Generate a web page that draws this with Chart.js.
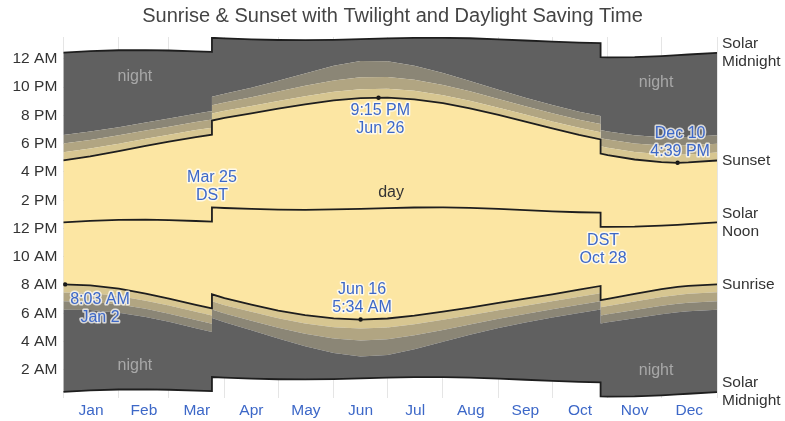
<!DOCTYPE html>
<html><head><meta charset="utf-8">
<script src="https://cdn.jsdelivr.net/npm/chart.js@4.4.0/dist/chart.umd.min.js"></script>
<style>html,body{margin:0;padding:0;background:#fff}#wrap{width:785px;height:421px;position:relative}</style>
</head><body><div id="wrap"><canvas id="c"></canvas></div>
<script>
// Day of year (0 = Jan 1). Repeated days mark DST switches (Mar 25, Oct 28).
const days = [0,15,31,46,59,74,83,83,90,105,120,135,151,166,181,196,212,227,243,258,273,288,300,300,304,319,334,343,349,365];
// Clock hours (decimal)
const solarMidnightLow = [0.440,0.545,0.612,0.624,0.595,0.535,0.495,1.495,1.454,1.385,1.339,1.325,1.350,1.395,1.447,1.487,1.492,1.460,1.389,1.304,1.219,1.152,1.122,0.122,0.114,0.132,0.204,0.265,0.312,0.434];
const astroDawn   = [6.261,6.233,6.051,5.747,5.409,4.947,4.675,5.675,5.364,4.806,4.219,3.676,3.187,2.941,3.051,3.458,3.987,4.478,4.960,5.351,5.704,6.034,6.278,5.278,5.363,5.662,5.945,6.078,6.152,6.261];
const nauticalDawn= [6.860,6.824,6.629,6.318,5.981,5.532,5.273,6.273,5.983,5.479,4.977,4.551,4.219,4.085,4.170,4.444,4.827,5.211,5.614,5.959,6.286,6.605,6.850,5.850,5.936,6.245,6.539,6.678,6.753,6.861];
const civilDawn   = [7.484,7.434,7.221,6.895,6.552,6.106,5.854,6.854,6.576,6.105,5.654,5.290,5.025,4.930,5.008,5.232,5.547,5.874,6.228,6.546,6.859,7.177,7.429,6.429,6.518,6.843,7.155,7.301,7.379,7.486];
const sunrise     = [8.051,7.986,7.749,7.403,7.049,6.598,6.348,7.348,7.075,6.622,6.199,5.868,5.638,5.562,5.636,5.836,6.117,6.411,6.739,7.041,7.350,7.675,7.937,6.937,7.032,7.379,7.712,7.867,7.949,8.053];
const solarNoon   = [12.440,12.545,12.612,12.624,12.595,12.535,12.495,13.495,13.454,13.385,13.339,13.325,13.350,13.395,13.447,13.487,13.492,13.460,13.389,13.304,13.219,13.152,13.122,12.122,12.114,12.132,12.204,12.265,12.312,12.434];
const sunset      = [16.829,17.104,17.475,17.845,18.141,18.472,18.642,19.642,19.833,20.148,20.479,20.782,21.062,21.228,21.258,21.138,20.867,20.509,20.039,19.567,19.088,18.629,18.307,17.307,17.196,16.885,16.696,16.650,16.675,16.815];
const civilDusk   = [17.396,17.656,18.003,18.353,18.638,18.964,19.136,20.136,20.332,20.665,21.024,21.360,21.675,21.860,21.886,21.742,21.437,21.046,20.550,20.062,19.579,19.127,18.815,17.815,17.710,17.421,17.253,17.229,17.245,17.382];
const nauticalDusk= [18.020,18.266,18.595,18.930,19.209,19.538,19.717,20.717,20.925,21.291,21.701,22.099,22.481,22.705,22.724,22.530,22.157,21.709,21.164,20.649,20.152,19.699,19.394,18.394,18.292,18.019,17.869,17.852,17.871,18.007];
const astroDusk   = [18.619,18.857,19.173,19.501,19.781,20.123,20.315,21.315,21.544,21.964,22.459,22.974,23.513,23.849,23.843,23.516,22.997,22.442,21.818,21.257,20.734,20.270,19.966,18.966,18.865,18.602,18.463,18.452,18.472,18.607];
const solarMidnightHigh = [24.440,24.545,24.612,24.624,24.595,24.535,24.495,25.495,25.454,25.385,25.339,25.325,25.350,25.395,25.447,25.487,25.492,25.460,25.389,25.304,25.219,25.152,25.122,24.122,24.114,24.132,24.204,24.265,24.312,24.434];

// Marked extremes
const markerDays  = [1, 166, 176, 343];
const markerHours = [8.05, 5.567, 21.25, 16.65];

// Axis labels
const monthNames = ['Jan','Feb','Mar','Apr','May','Jun','Jul','Aug','Sep','Oct','Nov','Dec'];
const monthStartDays = [0,31,59,90,120,151,181,212,243,273,304,334,365];
const yTickValues = [2,4,6,8,10,12,14,16,18,20,22,24];
const yTickLabels = ['2 AM','4 AM','6 AM','8 AM','10 AM','12 PM','2 PM','4 PM','6 PM','8 PM','10 PM','12 AM'];
const rightLabels = [['Solar','Midnight'],'Sunrise',['Solar','Noon'],'Sunset',['Solar','Midnight']];

const FONT = "'Liberation Sans', Arial, Helvetica, sans-serif";
const NIGHT = '#606060', ASTRO = '#8b8676', NAUT = '#b1a582', CIVIL = '#d7c691', DAY = '#fce6a3';
const LINE = '#1e1e1e';

const monthMidDays = monthNames.map((m,i)=>(monthStartDays[i]+monthStartDays[i+1])/2);
const xTicks = [];
monthStartDays.forEach(v=>xTicks.push({value:v,label:'',grid:true}));
monthMidDays.forEach((v,i)=>xTicks.push({value:v,label:monthNames[i],grid:false}));
xTicks.sort((a,b)=>a.value-b.value);

const pts = arr => days.map((d,i)=>({x:d,y:arr[i]}));
function ds(label, arr, fill, bg, bw){
  return {label, data: pts(arr), fill, backgroundColor: bg,
    borderColor: bw>0 ? LINE : 'rgba(0,0,0,0)', borderWidth: bw>0?bw:1,
    pointRadius:0, pointHoverRadius:0, tension:0};
}
const datasets = [
  ds('Solar midnight', solarMidnightLow, false, 'rgba(0,0,0,0)', 1.8),
  ds('Astronomical dawn', astroDawn, '-1', NIGHT, 0),
  ds('Nautical dawn', nauticalDawn, '-1', ASTRO, 0),
  ds('Civil dawn', civilDawn, '-1', NAUT, 0),
  ds('Sunrise', sunrise, '-1', CIVIL, 1.8),
  ds('Sunset', sunset, '-1', DAY, 1.8),
  ds('Civil dusk', civilDusk, '-1', CIVIL, 0),
  ds('Nautical dusk', nauticalDusk, '-1', NAUT, 0),
  ds('Astronomical dusk', astroDusk, '-1', ASTRO, 0),
  ds('Solar midnight (next)', solarMidnightHigh, '-1', NIGHT, 1.8),
  ds('Solar noon', solarNoon, false, 'rgba(0,0,0,0)', 1.8),
  {label:'Markers', data: markerDays.map((d,i)=>({x:d,y:markerHours[i]})), showLine:false, fill:false,
   pointRadius:2.2, pointBackgroundColor:'#111', pointBorderWidth:0, borderColor:'rgba(0,0,0,0)'}
];

const annotations = [
  {lines:['night'], day:40, hour:22.73, color:'#a8a8a8'},
  {lines:['night'], day:40, hour:2.30, color:'#a8a8a8'},
  {lines:['night'], day:331, hour:22.30, color:'#a8a8a8'},
  {lines:['night'], day:331, hour:1.95, color:'#a8a8a8'},
  {lines:['day'], day:183, hour:14.53, color:'#333333'},
  {lines:['Mar 25','DST'], day:83, hour:15.0, color:'#3d68c8', halo:true},
  {lines:['9:15 PM','Jun 26'], day:177, hour:19.7, color:'#3d68c8', halo:true},
  {lines:['Dec 10','4:39 PM'], day:344.4, hour:18.1, color:'#3d68c8', halo:true},
  {lines:['DST','Oct 28'], day:301.4, hour:10.5, color:'#3d68c8', halo:true},
  {lines:['8:03 AM','Jan 2'], day:20.5, hour:6.37, color:'#3d68c8', halo:true},
  {lines:['Jun 16','5:34 AM'], day:166.8, hour:7.07, color:'#3d68c8', halo:true}
];

const annotationPlugin = {
  id:'annot',
  afterDraw(chart){
    const ctx = chart.ctx, xs = chart.scales.x, ys = chart.scales.y;
    ctx.save();
    ctx.font = '16px ' + FONT;
    ctx.textAlign = 'center';
    ctx.textBaseline = 'middle';
    const lh = 18;
    annotations.forEach(a=>{
      const x = xs.getPixelForValue(a.day), y = ys.getPixelForValue(a.hour);
      const y0 = y - (a.lines.length-1)*lh/2;
      a.lines.forEach((t,i)=>{
        if (a.halo){
          ctx.strokeStyle = 'rgba(255,255,255,0.75)';
          ctx.lineWidth = 3; ctx.lineJoin='round';
          ctx.strokeText(t, x, y0+i*lh);
        }
        ctx.fillStyle = a.color;
        ctx.fillText(t, x, y0+i*lh);
      });
    });
    ctx.restore();
  }
};

new Chart(document.getElementById('c'), {
  type:'line',
  data:{datasets},
  plugins:[annotationPlugin],
  options:{
    responsive:true, maintainAspectRatio:false, animation:false, devicePixelRatio:1,
    layout:{padding:0},
    plugins:{
      legend:{display:false}, tooltip:{enabled:false},
      filler:{drawTime:'beforeDatasetsDraw', propagate:false},
      title:{display:true, text:'Sunrise & Sunset with Twilight and Daylight Saving Time',
        color:'#444', font:{family:FONT, size:20, weight:'normal'}, padding:{top:4,bottom:9}}
    },
    scales:{
      x:{type:'linear', min:0, max:365, z:1, border:{display:false},
        afterBuildTicks: s => { s.ticks = xTicks.map(t=>({value:t.value})); },
        afterFit: s => { s.height = 22.4; },
        ticks:{autoSkip:false, maxRotation:0, minRotation:0, padding:3, color:'#3d68c8',
          font:{family:FONT, size:15.5}, callback:(v,i)=>xTicks[i] ? xTicks[i].label : ''},
        grid:{drawTicks:false, lineWidth:1,
          color: c => (c.index!==undefined && xTicks[c.index] && xTicks[c.index].grid) ? 'rgba(0,0,0,0.1)' : 'rgba(0,0,0,0)'}
      },
      y:{type:'linear', position:'left', min:0, max:25.55, z:1, border:{display:false},
        afterBuildTicks: s => { s.ticks = yTickValues.map(v=>({value:v})); },
        afterFit: s => { s.width = 63.3; },
        ticks:{padding:6, color:'#333', font:{family:FONT, size:15.5}, autoSkip:false,
          callback:(v,i)=>yTickLabels[i]},
        grid:{drawTicks:false, color:'rgba(0,0,0,0.07)'}
      },
      y2:{type:'linear', position:'right', min:0, max:25.55, z:1, border:{display:false},
        afterBuildTicks: s => {
          const n = days.length-1;
          s.ticks = [solarMidnightLow[n], sunrise[n], solarNoon[n], sunset[n], solarMidnightHigh[n]].map(v=>({value:v}));
        },
        afterFit: s => { s.width = 68; },
        ticks:{padding:5, color:'#333', font:{family:FONT, size:15.5, lineHeight:1.15}, autoSkip:false,
          callback:(v,i)=>rightLabels[i]},
        grid:{display:false, drawTicks:false}
      }
    }
  }
});
</script>
</body></html>
